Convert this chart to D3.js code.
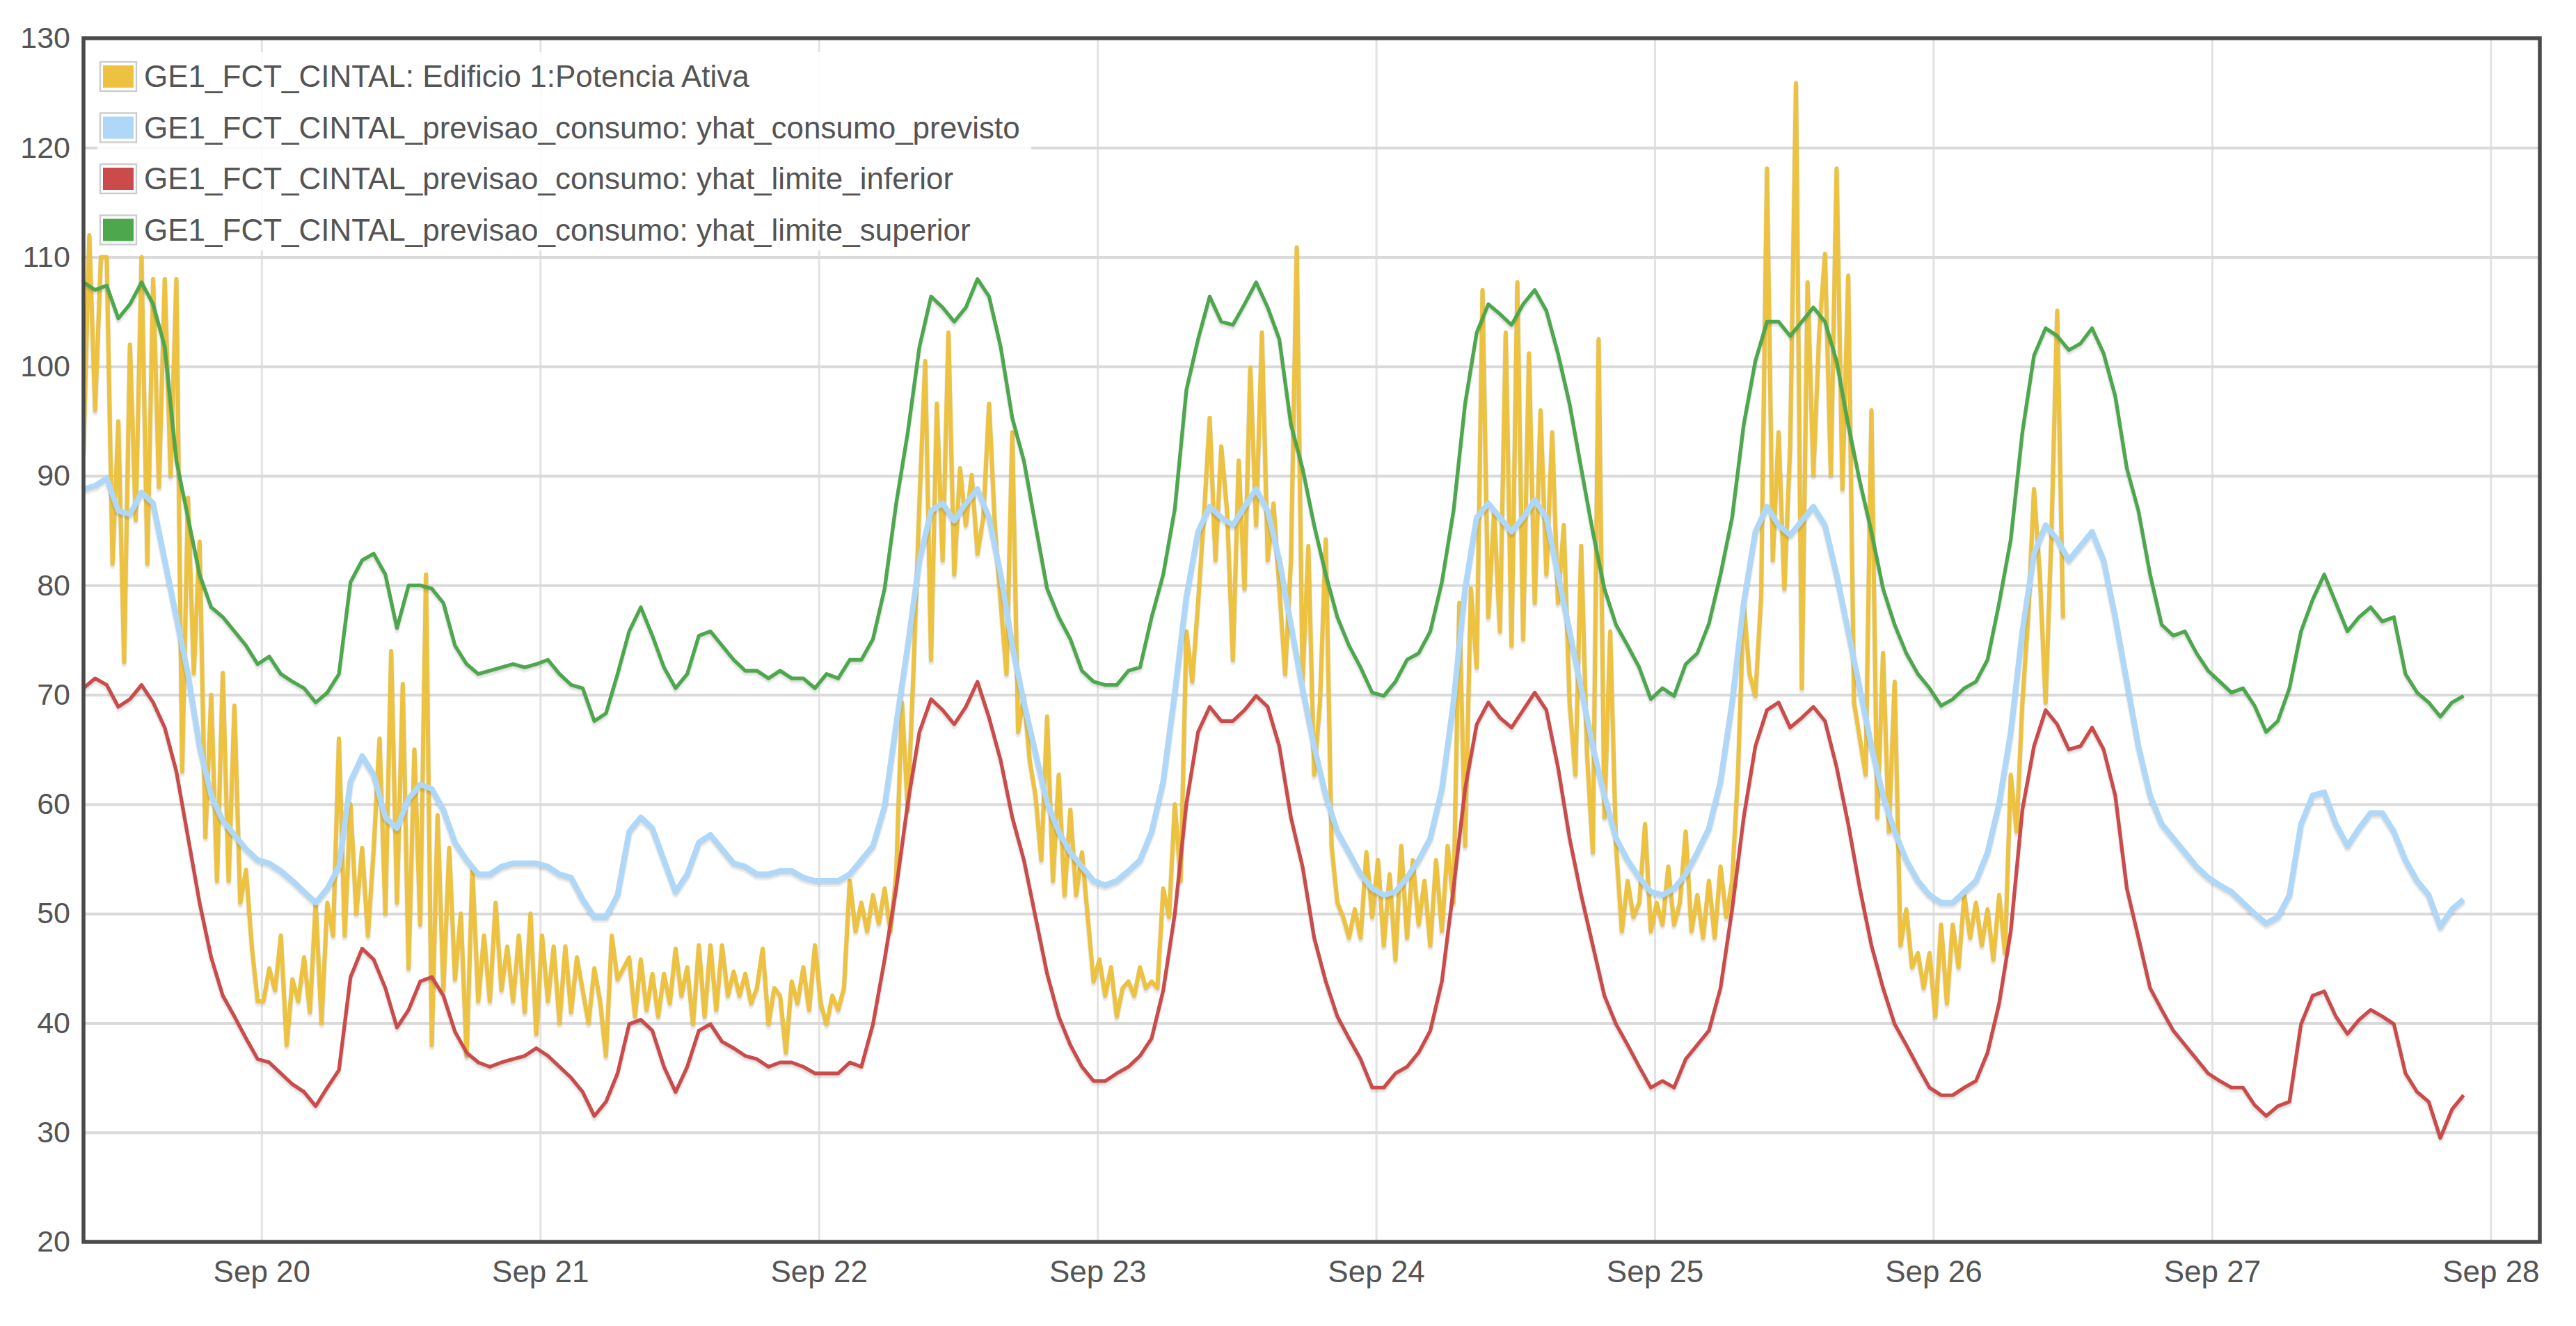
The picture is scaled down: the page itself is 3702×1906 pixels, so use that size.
<!DOCTYPE html>
<html>
<head>
<meta charset="utf-8">
<script src="https://cdn.jsdelivr.net/npm/d3@7"></script>
<style>
  html, body { margin: 0; padding: 0; background: #fff; }
  svg { display: block; font-family: "Liberation Sans", Arial, sans-serif; }
</style>
</head>
<body>
<svg id="chart" width="3702" height="1906"></svg>
<script>
(function (d3) {
  'use strict';

  // series names (legend order = drawing order)
  var seriesNames = [
    "GE1_FCT_CINTAL: Edificio 1:Potencia Ativa",
    "GE1_FCT_CINTAL_previsao_consumo: yhat_consumo_previsto",
    "GE1_FCT_CINTAL_previsao_consumo: yhat_limite_inferior",
    "GE1_FCT_CINTAL_previsao_consumo: yhat_limite_superior"
  ];
  var seriesColors = ["#edc240", "#afd8f8", "#cb4b4b", "#4da74d"];

  var yTicks = [20, 30, 40, 50, 60, 70, 80, 90, 100, 110, 120, 130];

  // measured power, one reading every 30 min from Sep 19 08:40
  var potencia = [
    92, 112, 96, 110, 110, 82, 95, 73, 102, 86,
    110, 82, 108, 89, 108, 90, 108, 63, 88, 72,
    84, 57, 70, 53, 72, 53, 69, 51, 54, 47,
    42, 42, 45, 43, 48, 38, 44, 42, 46, 41,
    51, 40, 51, 48, 66, 48, 60, 50, 56, 48,
    56, 66, 50, 74, 51, 71, 45, 65, 49, 81,
    38, 59, 43, 56, 44, 50, 37, 54, 42, 48,
    42, 51, 43, 47, 42, 48, 41, 50, 39, 48,
    42, 47, 40, 47, 41, 46, 43, 40, 45, 42,
    37, 48, 44, 45, 46,
    40.6, 45.8, 41.2, 44.5, 40.6, 44.5, 41.8, 46.8, 42.5, 45.1,
    39.9, 47.1, 40.6, 47.1, 41.2, 47.1, 42.5, 44.7, 42.5, 44.5,
    41.8, 43.2, 46.8, 39.9, 43.2, 42.5, 37.3, 43.8, 41.8, 45.1,
    41.2, 47.1, 41.8, 39.9, 42.5, 41.2, 43.2, 53, 48.4, 51,
    48.4, 51.7, 49.1, 52.3, 48.4, 53.6, 69.3, 59.5, 72.5, 87.5,
    100.5, 73.2, 96.6, 82.3, 103.1, 81, 90.7, 85.5, 90.1, 82.9,
    86.2, 96.6, 85.5, 78.4, 71.9, 94, 66.6, 69.9, 64, 60.8,
    54.9, 68, 53, 62.7, 51.7, 59.5, 51.7, 55.6, 49.7, 43.8,
    45.8, 42.5, 45.1, 40.6, 43.2, 43.8, 42.5, 45.1, 43.2, 43.8,
    43.2, 52.3, 49.7, 60,
    53, 75.8, 71.2, 78.4, 86.2, 95.3, 82.3, 92.7, 86.8, 73.2,
    91.4, 79.7, 99.9, 85.5, 103.1, 82.3, 87.5, 79.7, 71.9, 82.3,
    110.9, 71.2, 83.6, 62.7, 69.3, 84.2, 56.2, 51, 49.7, 47.8,
    50.4, 47.8, 55.6, 49.7, 54.9, 47.1, 53.6, 45.8, 56.2, 47.8,
    54.9, 49, 53, 47.1, 54.9, 48.4, 56.2, 51, 78.4, 56.2,
    79.7, 72.5, 107, 77.1, 86.8, 75.8, 103.1, 74.5, 107.7, 75.1,
    101.2, 78.4, 96, 81, 94, 78.4, 85.5, 69.3, 62.7, 83.6,
    64.7, 55.6, 102.5, 58.8, 75.8, 56.2, 48.4, 53, 49.7, 51,
    58.2, 48.4, 51, 49, 54.3, 49, 51, 57.5, 48.4, 51.7,
    47.8, 53, 47.8,
    54.3, 49.7, 53, 62.7, 78.4, 71.9, 69.9, 79, 118.1, 82.3,
    94, 79.7, 92.7, 125.9, 70.6, 107.7, 90.1, 103.1, 110.3, 90.1,
    118.1, 88.8, 108.3, 69.3, 66, 62.7, 96, 58.8, 73.8, 57.5,
    71.2, 47.1, 50.4, 45.1, 46.4, 43.2, 46.4, 40.6, 49, 41.8,
    49, 45.1, 51.7, 47.8, 51, 47.1, 50.4, 45.8, 51.7, 46.4,
    62.7, 57.5, 69.3, 77.1, 88.8, 81, 69.3, 84.6, 105.1, 77
  ];

  // forecast series, hourly from Sep 19 08:40
  var previsto = [
    88.8, 89.1, 89.8, 86.8, 86.5, 88.5, 87.5, 82.3, 77.1, 71.9,
    65.3, 60.8, 58.5, 57.2, 55.9, 54.9, 54.6, 53.9, 53, 52,
    51, 52.3, 54.3, 62.1, 64.4, 62.7, 58.8, 57.8, 60.5, 61.8,
    61.4, 59.5, 56.5, 54.9, 53.6, 53.6, 54.3, 54.6, 54.6, 54.6,
    54.3, 53.6, 53.3, 51.3, 49.7, 49.7, 51.7, 57.5,
    58.8, 57.8, 54.9, 52, 53.6, 56.5, 57.2, 55.9, 54.6, 54.3,
    53.6, 53.6, 53.9, 53.9, 53.3, 53, 53, 53, 53.6, 54.9,
    56.2, 59.8, 67.3, 74.5, 82.3, 86.8, 87.5, 85.9, 87.5, 88.8,
    86.2, 81, 74.5, 69.3, 64.7, 60.1, 57.5, 55.6, 54.3, 53,
    52.6, 53, 53.9, 54.9, 57.5, 62.1, 70.2, 79, 84.9, 87.2,
    86.2, 85.5, 87.2, 88.8, 86.8, 82.3, 76.4, 70.6, 65.3, 60.8,
    57.5, 55.6, 53.6, 52.3, 51.7, 52, 53.3, 54.9, 56.9, 61.4,
    69.3, 79.7, 86.2, 87.5, 86.2, 84.9, 86.2, 87.8, 86.2, 81,
    75.8, 70.6, 65.3, 60.8, 56.9, 54.9, 53.3, 52, 51.7, 52.3,
    53.6, 55.6,
    57.8, 62.1, 69.3, 78.4, 84.9, 87.2, 85.5, 84.6, 85.9, 87.2,
    85.5, 81, 75.8, 70.6, 65.3, 60.8, 57.5, 54.9, 53, 51.7,
    51, 51, 52, 53, 55.6, 60.1, 66.6, 75.8, 82.9, 85.5,
    84.2, 82.3, 83.6, 84.9, 82.3, 77.1, 71.2, 65.3, 60.8, 58.2,
    56.9, 55.6, 54.3, 53.3, 52.6, 52, 51, 50,
    49.1, 49.7, 51.7, 58.2, 60.8, 61.1, 58.2, 56.2, 57.8, 59.2,
    59.2, 57.5, 54.9, 53, 51.7, 48.8, 50.4, 51.3
  ];

  var inferior = [
    70.6, 71.5, 70.9, 68.9, 69.6, 70.9, 69.3, 67, 63, 57,
    51, 46, 42.5, 40.6, 38.6, 36.7, 36.4, 35.4, 34.4, 33.7,
    32.4, 34.1, 35.7, 44.2, 46.8, 45.8, 43.2, 39.6, 41.2, 43.8,
    44.2, 42.5, 39.2, 37.3, 36.4, 36, 36.4, 36.7, 37, 37.7,
    37, 36, 35, 33.7, 31.5, 32.8, 35.4, 39.9,
    40.3, 39.3, 36, 33.7, 36, 39.3, 39.9, 38.3, 37.7, 37,
    36.7, 36, 36.4, 36.4, 36, 35.4, 35.4, 35.4, 36.4, 36,
    39.9, 45.8, 52.3, 60.1, 66.6, 69.6, 68.6, 67.3, 68.9, 71.2,
    67.9, 64, 58.8, 54.9, 49.7, 44.5, 40.6, 38, 36, 34.7,
    34.7, 35.4, 36, 37, 38.6, 43, 50, 60.1, 66.6, 68.9,
    67.6, 67.6, 68.6, 69.9, 68.9, 65.3, 58.8, 54.3, 47.8, 43.8,
    40.6, 38.6, 36.7, 34.1, 34.1, 35.4, 36, 37.3, 39.3, 43.8,
    52.3, 61.4, 67.3, 69.3, 67.9, 67, 68.6, 70.2, 68.6, 63.4,
    56.9, 51.7, 47.1, 42.5, 39.9, 38, 36, 34.1, 34.7, 34.1,
    36.7, 38,
    39.3, 43.2, 50.4, 58.8, 65.3, 68.6, 69.3, 67, 67.9, 68.9,
    67.6, 63.4, 58.2, 52.3, 47.1, 43.2, 39.9, 38, 36, 34.1,
    33.4, 33.4, 34.1, 34.7, 37.3, 41.8, 48.4, 59.5, 65.3, 68.6,
    67.3, 65, 65.3, 67, 65, 60.8, 52.3, 47.8, 43.2, 41.2,
    39.3, 38, 36.7, 35.4, 34.7, 34.1, 34.1, 32.5,
    31.5, 32.4, 32.8, 39.9, 42.5, 42.9, 40.6, 39, 40.3, 41.2,
    40.6, 39.9, 35.4, 33.7, 32.8, 29.5, 32.1, 33.4
  ];

  var superior = [
    107.7, 107, 107.4, 104.4, 105.7, 107.7, 105.7, 101.8, 91.4, 86.2,
    81, 78, 77.1, 75.8, 74.5, 72.8, 73.5, 71.9, 71.2, 70.6,
    69.3, 70.2, 71.9, 80.3, 82.3, 82.9, 81, 76.1, 80, 80,
    79.7, 78.4, 74.5, 72.8, 71.9, 72.2, 72.5, 72.8, 72.5, 72.8,
    73.2, 71.9, 70.9, 70.6, 67.6, 68.3, 71.9, 75.8,
    78, 75.4, 72.5, 70.6, 71.9, 75.4, 75.8, 74.5, 73.2, 72.2,
    72.2, 71.5, 72.2, 71.5, 71.5, 70.6, 71.9, 71.5, 73.2, 73.2,
    75.1, 79.7, 87.5, 94, 101.8, 106.4, 105.4, 104.1, 105.4, 108,
    106.4, 101.8, 95.3, 91.4, 85.5, 79.7, 77.1, 75.1, 72.2, 71.2,
    70.9, 70.9, 72.2, 72.5, 77.1, 81, 87, 97.9, 102.5, 106.4,
    104.1, 103.8, 105.7, 107.7, 105.4, 102.5, 94.7, 90.7, 85.5, 81,
    77.1, 74.5, 72.5, 70.2, 69.9, 71.2, 73.2, 73.8, 75.8, 80.3,
    86.8, 96.6, 103.1, 105.7, 104.8, 103.8, 105.7, 107, 105.1, 101.2,
    96.6, 90.7, 84.9, 79.7, 76.4, 74.5, 72.5, 69.6, 70.6, 69.9,
    72.8, 73.8,
    76.5, 81, 86.2, 94.7, 100.5, 104.1, 104.1, 102.8, 104.1, 105.4,
    104.1, 100.5, 94.7, 89.5, 84.9, 79.7, 76.4, 73.8, 71.9, 70.6,
    69, 69.6, 70.6, 71.2, 73.2, 78.4, 84.2, 94, 101, 103.5,
    102.8, 101.5, 102.1, 103.5, 101.2, 97.3, 90.7, 86.8, 81, 76.4,
    75.4, 75.8, 73.8, 72.2, 71.2, 70.2, 70.6, 69,
    66.6, 67.6, 70.6, 75.8, 78.7, 81, 78.4, 75.8, 77.1, 78,
    76.7, 77.1, 71.9, 70.2, 69.3, 68, 69.3, 69.9
  ];

  var start = new Date(2019, 8, 19, 8, 40);
  var end = new Date(2019, 8, 28, 4, 14);

  var plot = { left: 120, right: 3650, top: 55, bottom: 1785 };

  var svg = d3.select('#chart');

  var x = d3.scaleTime().domain([start, end]).range([plot.left, plot.right]);
  var y = d3.scaleLinear().domain([20, 130]).range([plot.bottom, plot.top]);

  var series = [
    { values: potencia.map((v, i) => ({ t: d3.timeMinute.offset(start, 30 * i), v: v })), width: 6 },
    { values: previsto.map((v, i) => ({ t: d3.timeHour.offset(start, i), v: v })), width: 8 },
    { values: inferior.map((v, i) => ({ t: d3.timeHour.offset(start, i), v: v })), width: 5.2 },
    { values: superior.map((v, i) => ({ t: d3.timeHour.offset(start, i), v: v })), width: 5.2 }
  ];

  svg.append('clipPath').attr('id', 'plotclip')
    .append('rect')
    .attr('x', plot.left).attr('y', plot.top - 10)
    .attr('width', plot.right - plot.left).attr('height', plot.bottom - plot.top + 10);

  // grid
  var days = d3.timeDay.every(1).range(d3.timeDay.ceil(start), end);

  svg.append('g')
    .attr('transform', 'translate(0,' + plot.bottom + ')')
    .call(d3.axisBottom(x).tickValues(days).tickSize(-(plot.bottom - plot.top)).tickFormat(''))
    .call(g => g.select('.domain').remove())
    .call(g => g.selectAll('line').attr('stroke', '#e2e2e2').attr('stroke-width', 3));

  svg.append('g')
    .attr('transform', 'translate(' + plot.left + ',0)')
    .call(d3.axisLeft(y).tickValues(yTicks).tickSize(-(plot.right - plot.left)).tickFormat(''))
    .call(g => g.select('.domain').remove())
    .call(g => g.selectAll('line').attr('stroke', '#dadada').attr('stroke-width', 4));

  // tick labels
  svg.append('g')
    .attr('transform', 'translate(' + plot.left + ',0)')
    .call(d3.axisLeft(y).tickValues(yTicks).tickSize(0).tickPadding(19))
    .call(g => g.select('.domain').remove())
    .call(g => g.selectAll('text')
      .attr('fill', '#545454')
      .style('font-size', '43px')
      .style('font-family', '"Liberation Sans", Arial, sans-serif'));

  svg.append('g')
    .attr('transform', 'translate(0,' + plot.bottom + ')')
    .call(d3.axisBottom(x).tickValues(days).tickSize(0).tickPadding(27).tickFormat(d3.timeFormat('%b %d')))
    .call(g => g.select('.domain').remove())
    .call(g => g.selectAll('text')
      .attr('fill', '#545454')
      .style('font-size', '44px')
      .style('font-family', '"Liberation Sans", Arial, sans-serif'));

  // lines with a soft shadow underneath
  var line = d3.line()
    .x(d => x(d.t))
    .y(d => y(d.v));

  var lines = svg.append('g').attr('clip-path', 'url(#plotclip)');

  series.forEach(function (s, i) {
    lines.append('path')
      .datum(s.values)
      .attr('d', line)
      .attr('transform', 'translate(0,4)')
      .attr('fill', 'none')
      .attr('stroke', 'rgba(0,0,0,0.07)')
      .attr('stroke-width', s.width + 2)
      .attr('stroke-linejoin', 'round');
    lines.append('path')
      .datum(s.values)
      .attr('d', line)
      .attr('transform', 'translate(0,2)')
      .attr('fill', 'none')
      .attr('stroke', 'rgba(0,0,0,0.08)')
      .attr('stroke-width', s.width)
      .attr('stroke-linejoin', 'round');
    lines.append('path')
      .datum(s.values)
      .attr('d', line)
      .attr('fill', 'none')
      .attr('stroke', seriesColors[i])
      .attr('stroke-width', s.width)
      .attr('stroke-linejoin', 'round');
  });

  // frame
  svg.append('rect')
    .attr('x', plot.left).attr('y', plot.top)
    .attr('width', plot.right - plot.left).attr('height', plot.bottom - plot.top)
    .attr('fill', 'none')
    .attr('stroke', '#4a4a4a')
    .attr('stroke-width', 5.5);

  // legend
  var legend = svg.append('g');
  legend.append('rect')
    .attr('x', 140).attr('y', 75)
    .attr('width', 1342).attr('height', 285)
    .attr('fill', '#fff')
    .attr('fill-opacity', 0.85);

  var rows = legend.selectAll('g.row')
    .data(seriesNames)
    .enter().append('g')
    .attr('class', 'row')
    .attr('transform', (d, i) => 'translate(0,' + (110 + i * 73.5) + ')');

  rows.append('rect')
    .attr('x', 144).attr('y', -21)
    .attr('width', 52).attr('height', 42)
    .attr('fill', '#fff')
    .attr('stroke', '#cccccc')
    .attr('stroke-width', 2.4);

  rows.append('rect')
    .attr('x', 148).attr('y', -16)
    .attr('width', 44).attr('height', 32)
    .attr('fill', (d, i) => seriesColors[i]);

  rows.append('text')
    .attr('x', 207).attr('y', 15)
    .attr('fill', '#545454')
    .style('font-size', '44px')
    .text(d => d);

}(d3));
</script>
</body>
</html>
